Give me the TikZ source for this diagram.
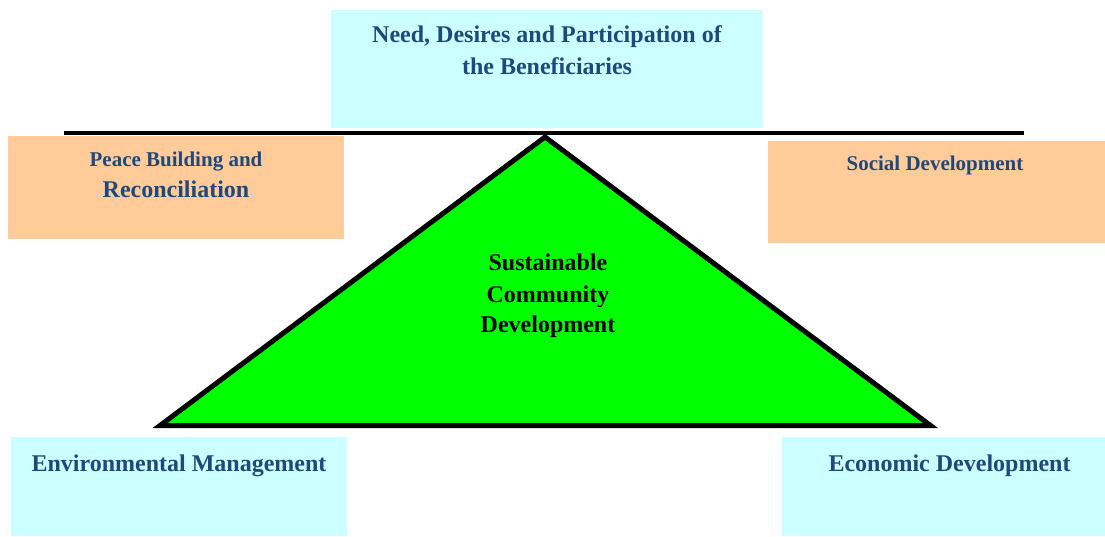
\documentclass[tikz,border=0pt]{standalone}
\usepackage{fontspec}
\setmainfont{Liberation Serif}
\definecolor{boxcyan}{HTML}{CCFFFF}
\definecolor{boxorange}{HTML}{FFCC99}
\definecolor{trigreen}{HTML}{00FF00}
\definecolor{txtblue}{HTML}{1F497D}
\begin{document}
\begin{tikzpicture}[x=1pt,y=-1pt,
  cyanbox/.style={fill=boxcyan,draw=none},
  orangebox/.style={fill=boxorange,draw=none},
  bluebig/.style={anchor=base,inner sep=0pt,text=txtblue,font=\bfseries\fontsize{24}{28}\selectfont},
  bluesmall/.style={anchor=base,inner sep=0pt,text=txtblue,font=\bfseries\fontsize{21}{25}\selectfont},
  blackbig/.style={anchor=base,inner sep=0pt,text=black,font=\bfseries\fontsize{24}{28}\selectfont}]
\useasboundingbox (0,0) rectangle (1105,536);
% boxes
\path[cyanbox] (331,10) rectangle (763,128) node[pos=0.5] (topbox) {};
\path[orangebox] (8,136) rectangle (344,239) node[pos=0.5] (peacebox) {};
\path[orangebox] (768,141) rectangle (1105,243) node[pos=0.5] (socialbox) {};
\path[cyanbox] (11,437) rectangle (347,536) node[pos=0.5] (envbox) {};
\path[cyanbox] (782,437) rectangle (1105,536) node[pos=0.5] (econbox) {};
% horizontal bar
\coordinate (barL) at (64,133);
\coordinate (barR) at (1024,133);
\draw[line width=3.5pt] (barL) -- (barR);
% triangle
\coordinate (apex) at (545,137);
\coordinate (baseL) at (160,425.5);
\coordinate (baseR) at (930.5,425.5);
\draw[line width=5pt,fill=trigreen,line join=miter] (apex) -- (baseL) -- (baseR) -- cycle;
% texts
\node[bluebig] (top1) at (547,42) {Need, Desires and Participation of};
\node[bluebig] (top2) at (547,74) {the Beneficiaries};
\node[bluesmall] (peace1) at (176,166) {Peace Building and};
\node[bluebig] (peace2) at (176,197) {Reconciliation};
\node[bluesmall] (social) at (935,170) {Social Development};
\node[bluebig] (env) at (179,471) {Environmental Management};
\node[bluebig] (econ) at (949.5,471) {Economic Development};
\node[blackbig] (sus1) at (548,270) {Sustainable};
\node[blackbig] (sus2) at (548,302) {Community};
\node[blackbig] (sus3) at (548,332) {Development};
\end{tikzpicture}
\end{document}
